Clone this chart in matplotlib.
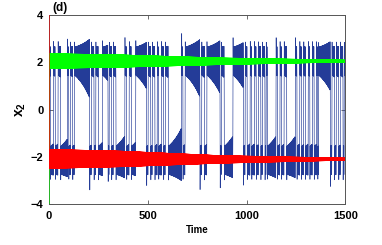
import numpy as np
import matplotlib
matplotlib.use("Agg")
import matplotlib.pyplot as plt

plt.rcParams["font.family"] = "Liberation Sans"
plt.rcParams["font.weight"] = "bold"
plt.rcParams["mathtext.fontset"] = "custom"
plt.rcParams["mathtext.rm"] = "Liberation Sans:bold"
plt.rcParams["mathtext.it"] = "Liberation Sans:bold"
plt.rcParams["mathtext.bf"] = "Liberation Sans:bold"

T_END = 1500

# start times of the blue episodes; the side
# (upper/lower scroll) alternates, beginning on the upper one
SWITCH_T = [0, 9, 24, 33, 47, 60, 95, 101, 110, 121, 130, 207, 216, 229,
            238, 251, 272, 300, 306, 318, 327, 340, 385, 394, 407, 418, 440,
            495, 503, 516, 524, 537, 549, 556, 570, 581, 590, 605, 672, 679,
            690, 765, 774, 788, 800, 867, 874, 888, 932, 985, 994, 1004,
            1019, 1027, 1041, 1050, 1061, 1073, 1081, 1094, 1100, 1106, 1150,
            1157, 1170, 1178, 1191, 1204, 1248, 1256, 1270, 1279, 1290, 1299,
            1313, 1321, 1334, 1343, 1355, 1361, 1365, 1425, 1433, 1446, 1455,
            1467, 1476, 1489, 1495]
FIRST_SIDE = 1
BLUE_CENTER = {1: 2.0, -1: -2.1}       # scroll centres
AMP_START, AMP_MAX = 0.55, 1.5         # oscillation growth inside an episode
AMP_TAU = 75.0
HALF_PERIOD = 1.1

# green / red bands: centre and half-width read at a few times
BAND_T = [0, 360, 867, 1500]
GREEN_MID = [2.05, 2.05, 2.04, 2.05]
GREEN_HALF = [0.30, 0.25, 0.13, 0.03]
RED_MID = [-2.09, -2.09, -2.11, -2.10]
RED_HALF = [0.39, 0.32, 0.15, 0.035]
GREEN_START, RED_START = -5.0, 5.0
BAND_STEP = 0.6


def blue_trace():
    ts, xs = [], []
    side = FIRST_SIDE
    a_prev = 1.0
    bounds = SWITCH_T + [T_END]
    for t0, t1 in zip(bounds[:-1], bounds[1:]):
        n = max(2, int(round((t1 - t0) / HALF_PERIOD)))
        n += n % 2  # finish on the inner swing before jumping across
        tt = np.linspace(t0, t1, n, endpoint=False)
        a = np.minimum(AMP_MAX, AMP_START * np.exp((tt - t0) / AMP_TAU))
        c = abs(BLUE_CENTER[side])
        outer = np.arange(n) % 2 == 0
        x = side * np.where(outer, c + 0.45 + 0.35 * a, c - a)
        # the swing right after a jump is bigger when the last scroll
        # had grown further before letting go
        x[0] = side * (c + 0.55 + 0.5 * a_prev)
        a_prev = a[-1]
        ts.append(tt)
        xs.append(x)
        side = -side
    return np.concatenate(ts), np.concatenate(xs)


def band(mid, half, start):
    t = np.arange(0, T_END + BAND_STEP, BAND_STEP)
    m = np.interp(t, BAND_T, mid)
    h = np.interp(t, BAND_T, half)
    sign = np.where(np.arange(len(t)) % 2 == 0, 1.0, -1.0)
    y = m + sign * h
    return np.r_[0.0, t + BAND_STEP], np.r_[start, y]


fig = plt.figure(figsize=(3.82, 2.45), dpi=100)
ax = fig.add_axes([0.128, 0.167, 0.776, 0.772])

bt, bx = blue_trace()
ax.plot(bt, bx, color="#243c98", linewidth=0.45, zorder=2)
gt, gy = band(GREEN_MID, GREEN_HALF, GREEN_START)
ax.plot(gt, gy, color="#00ff00", linewidth=0.9, zorder=3)
rt, ry = band(RED_MID, RED_HALF, RED_START)
ax.plot(rt, ry, color="#ff0000", linewidth=0.9, zorder=4)

ax.set_xlim(0, 1500)
ax.set_ylim(-4, 4)
ax.set_xticks([0, 500, 1000, 1500])
ax.set_yticks([-4, -2, 0, 2, 4])
ax.tick_params(direction="in", top=True, right=True, length=3, width=0.6,
               color="#555555", labelsize=8)
ax.tick_params(axis="x", pad=5)
ax.tick_params(axis="y", pad=4)
for s in ax.spines.values():
    s.set_color("#555555")
    s.set_linewidth(0.7)

ax.set_xlabel("Time", fontsize=7, fontweight="bold", labelpad=3)
ax.set_ylabel(r"$\mathrm{x_2}$", fontsize=10, labelpad=2)
ax.text(0.012, 1.005, "(d)", transform=ax.transAxes, ha="left", va="bottom",
        fontsize=8.5, fontweight="bold")

fig.savefig("out.png", dpi=100)
